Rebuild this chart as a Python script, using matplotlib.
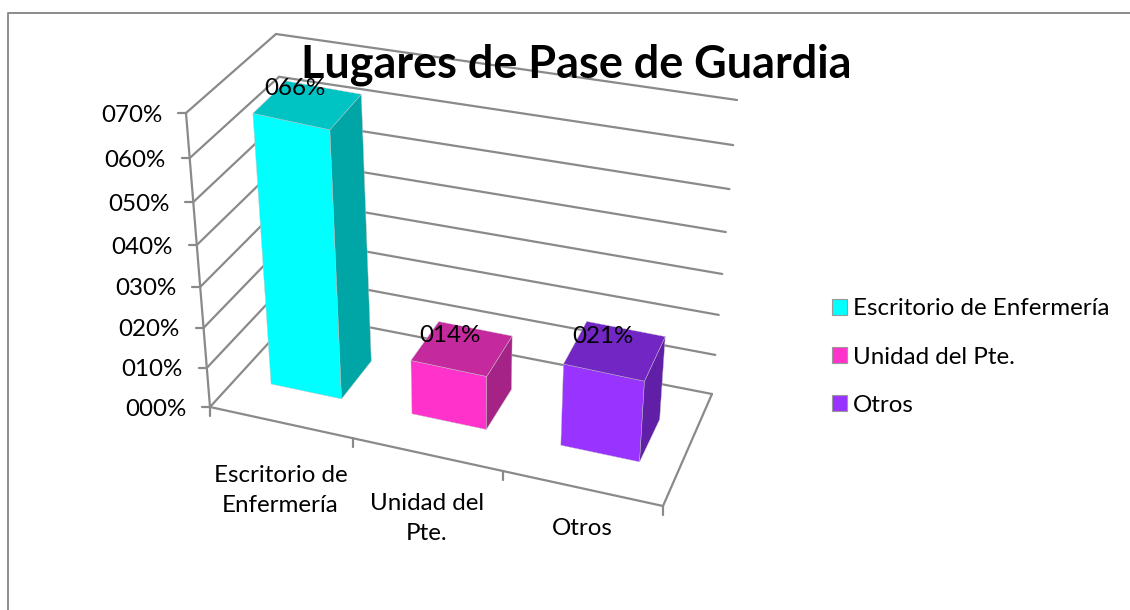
import matplotlib
matplotlib.use("Agg")
import matplotlib.pyplot as plt
from matplotlib.patches import Polygon, Patch

# ---- data ----
categories = ["Escritorio de Enfermería", "Unidad del Pte.", "Otros"]
axis_labels = ["Escritorio de\nEnfermería", "Unidad del\nPte.", "Otros"]
values = [0.66, 0.14, 0.214]
value_ticks = [0.0, 0.1, 0.2, 0.3, 0.4, 0.5, 0.6, 0.7]
title = "Lugares de Pase de Guardia"
front_colors = ["#00FFFF", "#FF33CC", "#9933FF"]
top_colors = ["#00C4C4", "#C42A9E", "#7226C4"]
side_colors = ["#00A6A6", "#A52386", "#601FA6"]

# ---- style / layout ----
GRID = "#8a8a8a"
FONT = ["Lato", "DejaVu Sans"]
FS = 17.4
VMAX = 0.7
LABEL_DY = [68, 64, 40]

# corners of the 3D box as seen on the page
FL0, FR0, BL0, BR0 = (210, 407), (663, 506), (296, 313), (712, 394)
HFL, HFR, HBL, HBR = (-24, -294), (19, -272), (-20, -279), (25, -294)


def warp(t, b):
    return (1 + b) * t / (1 + b * t)


def project(cat, depth, val):
    """cat in 0..1 across categories, depth in 0..1 front to back, val in data units."""
    u = warp(cat, -0.08)
    w = warp(val / VMAX, -0.08)
    out = []
    for k in range(2):
        base = ((1 - u) * (1 - depth) * FL0[k] + u * (1 - depth) * FR0[k]
                + (1 - u) * depth * BL0[k] + u * depth * BR0[k])
        rise = ((1 - u) * (1 - depth) * HFL[k] + u * (1 - depth) * HFR[k]
                + (1 - u) * depth * HBL[k] + u * depth * HBR[k])
        out.append(base + w * rise)
    return out


fig = plt.figure(figsize=(11.3, 6.1), dpi=100, facecolor="white")
ax = fig.add_axes([0, 0, 1, 1])
ax.set_xlim(0, 1130)
ax.set_ylim(610, 0)
ax.axis("off")

# chart frame
ax.plot([7.5, 7.5, 1130], [610, 12.5, 12.5], color="#8c8c8c", lw=1.4, zorder=1)


def seg(p, q, **kw):
    ax.plot([p[0], q[0]], [p[1], q[1]], color=GRID, lw=1.6,
            solid_capstyle="round", zorder=2, **kw)


# walls and value ticks
for t in value_ticks:
    a, b, c = project(0, 0, t), project(0, 1, t), project(1, 1, t)
    seg(a, b)
    seg(b, c)
    seg(a, (a[0] - 8, a[1]))
    ax.text(a[0] - 24, a[1] + 2, f"{round(t * 100):03d}%", ha="right", va="center",
            fontsize=FS, family=FONT, color="black", zorder=6)
seg(project(0, 0, 0), project(0, 0, VMAX))

# floor
seg(project(0, 0, 0), project(1, 0, 0))
seg(project(1, 0, 0), project(1, 1, 0))

# category ticks and labels
n = len(categories)
for i in range(n + 1):
    p = project(i / n, 0, 0)
    seg(p, (p[0], p[1] + 9))
for i, lab in enumerate(axis_labels):
    p = project((i + 0.5) / n, 0, 0)
    ax.text(p[0], p[1] + LABEL_DY[i], lab, ha="center", va="center", fontsize=FS,
            family=FONT, color="black", linespacing=1.5, zorder=6, multialignment="center")

# bars
HW, D0, D1 = 0.0845, 0.32, 0.705
LABEL_OFF = [-16, -13, -14]
for i, v in enumerate(values):
    c = (i + 0.5) / n
    l, r = c - HW, c + HW
    faces = [
        ([(l, D0, 0), (r, D0, 0), (r, D0, v), (l, D0, v)], front_colors[i]),
        ([(r, D0, 0), (r, D1, 0), (r, D1, v), (r, D0, v)], side_colors[i]),
        ([(l, D0, v), (r, D0, v), (r, D1, v), (l, D1, v)], top_colors[i]),
    ]
    for pts, col in faces:
        ax.add_patch(Polygon([project(*q) for q in pts], closed=True, facecolor=col,
                             edgecolor="#c4c4c4", lw=0.3, zorder=3))
    tl = project(c, (D0 + D1) / 2, v)
    ax.text(tl[0] - 12, tl[1] + LABEL_OFF[i], f"{round(v * 100):03d}%", ha="center", va="center",
            fontsize=FS, family=FONT, color="black", zorder=6)

# title
ax.text(576, 65, title, ha="center", va="center", fontsize=32.4, fontweight="bold",
        family=FONT, color="black", zorder=7)

# legend
handles = [Patch(facecolor=col, edgecolor="#999999", lw=0.8) for col in front_colors]
leg = ax.legend(handles, categories, loc="center left", bbox_to_anchor=(832, 357),
                bbox_transform=ax.transData, frameon=False, borderpad=0, borderaxespad=0,
                handlelength=0.62, handleheight=0.62, handletextpad=0.25, labelspacing=1.13,
                prop={"family": FONT, "size": FS})

fig.savefig("out.png", dpi=100)
